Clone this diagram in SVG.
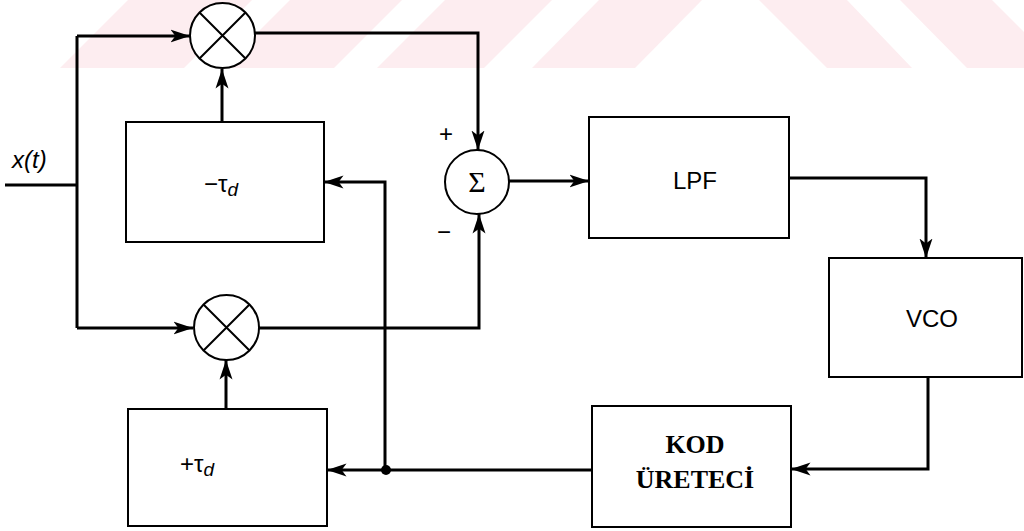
<svg xmlns="http://www.w3.org/2000/svg" width="1024" height="531" viewBox="0 0 1024 531">
<defs>
<marker id="ah" viewBox="0 0 12 10" refX="12" refY="5" markerWidth="6.5" markerHeight="5.5" orient="auto" markerUnits="strokeWidth">
<path d="M0,1 L12,5 L0,9 L3,5 Z" fill="#000"/>
</marker>
<style>
.box{fill:#fff;stroke:#000;stroke-width:2}
.circ{fill:#fff;stroke:#000;stroke-width:2}
.wire{fill:none;stroke:#000;stroke-width:3;stroke-linejoin:miter}
.arr{marker-end:url(#ah)}
.lbl{font-family:"Liberation Sans",Arial,sans-serif;font-size:24px;fill:#000}
.kod{font-family:"Liberation Serif","Times New Roman",serif;font-size:26px;font-weight:bold;fill:#000}
.wm{fill:#fdedf0}
</style>
</defs>
<rect width="1024" height="531" fill="#fff"/>
<g id="watermark">
<polygon class="wm" points="128,0 252,0 184,68 60,68"/>
<polygon class="wm" points="290,0 402,0 334,68 222,68"/>
<polygon class="wm" points="445,0 552,0 484,68 377,68"/>
<polygon class="wm" points="599,0 702,0 635,68 532,68"/>
<polygon class="wm" points="759,0 847,0 912,68 827,68"/>
<polygon class="wm" points="900,0 992,0 1060,68 967,68"/>
</g>
<g id="connectors">
<polyline class="wire" points="5,185 77,185"/>
<polyline class="wire" points="77,36 77,328"/>
<polyline class="wire arr" points="77,36 190,36"/>
<polyline class="wire arr" points="77,328 193,328"/>
<polyline class="wire arr" points="255,33 478,33 478,150"/>
<polyline class="wire arr" points="258,328 479,328 479,214"/>
<polyline class="wire arr" points="222,122 222,69"/>
<polyline class="wire arr" points="226,409 226,360"/>
<polyline class="wire arr" points="509,181 589,181"/>
<polyline class="wire arr" points="789,178 926,178 926,258"/>
<polyline class="wire arr" points="928,377 928,469 791,469"/>
<polyline class="wire arr" points="592,470 327,470"/>
<polyline class="wire arr" points="385,470 385,182 324,182"/>
<circle cx="386" cy="470" r="5" fill="#000"/>
</g>
<g id="mult_top">
<circle class="circ" cx="222.5" cy="35.5" r="32.5"/>
<path d="M199.5,12.5 L245.5,58.5 M245.5,12.5 L199.5,58.5" stroke="#000" stroke-width="2"/>
</g>
<g id="mult_bottom">
<circle class="circ" cx="226.5" cy="327.5" r="32.5"/>
<path d="M203.5,304.5 L249.5,350.5 M249.5,304.5 L203.5,350.5" stroke="#000" stroke-width="2"/>
</g>
<g id="sum">
<circle class="circ" cx="477" cy="182" r="32"/>
<text x="477" y="192" text-anchor="middle" font-family="Liberation Serif,serif" font-size="30">Σ</text>
<text x="446" y="142" text-anchor="middle" font-family="Liberation Sans,sans-serif" font-size="24">+</text>
<text x="444" y="240" text-anchor="middle" font-family="Liberation Sans,sans-serif" font-size="24">−</text>
</g>
<g id="input">
<text class="lbl" x="12" y="168" font-style="italic">x(t)</text>
</g>
<g id="delay_minus">
<rect class="box" x="126" y="122" width="198" height="120"/>
<text class="lbl" x="204" y="192">−τ<tspan font-style="italic" font-size="19" dy="4">d</tspan></text>
</g>
<g id="delay_plus">
<rect class="box" x="128" y="409" width="199" height="117"/>
<text class="lbl" x="180" y="472">+τ<tspan font-style="italic" font-size="19" dy="4">d</tspan></text>
</g>
<g id="lpf">
<rect class="box" x="589" y="117" width="200" height="121"/>
<text class="lbl" x="695" y="189" text-anchor="middle" font-size="25">LPF</text>
</g>
<g id="vco">
<rect class="box" x="829" y="258" width="193" height="119"/>
<text class="lbl" x="932" y="327" text-anchor="middle" font-size="25">VCO</text>
</g>
<g id="kod">
<rect class="box" x="592" y="406" width="199" height="121"/>
<text class="kod" x="695" y="453" text-anchor="middle">KOD</text>
<text class="kod" x="695" y="488" text-anchor="middle">ÜRETECİ</text>
</g>
</svg>
